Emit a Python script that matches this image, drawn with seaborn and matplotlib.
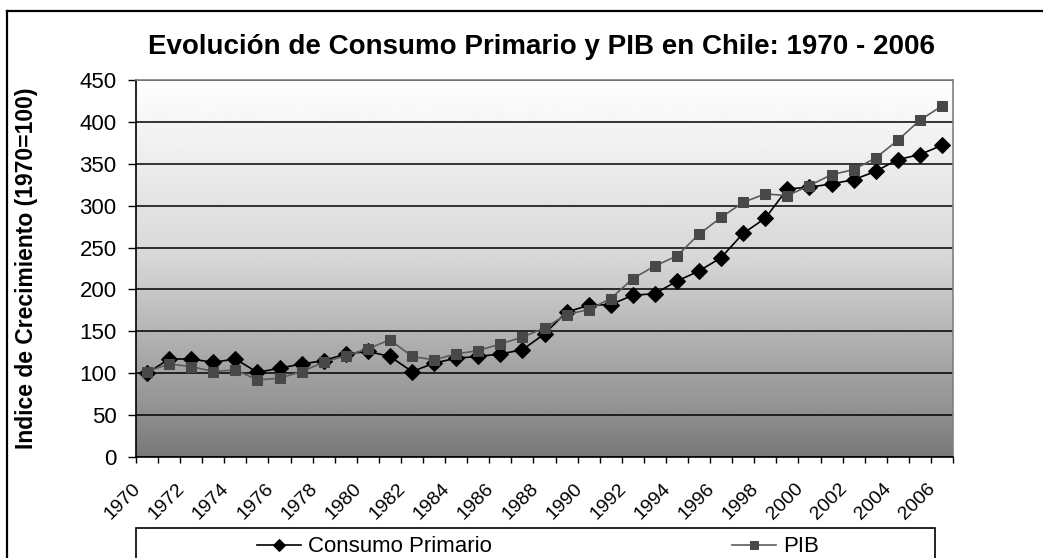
import numpy as np
import matplotlib.pyplot as plt
import pandas as pd
import seaborn as sns
from matplotlib.patches import Rectangle
from matplotlib.lines import Line2D
from matplotlib.transforms import ScaledTranslation

plt.rcParams['font.family'] = ['Liberation Sans', 'DejaVu Sans']

years = list(range(1970, 2007))
consumo = [100, 117, 117, 113, 117, 101, 106, 111, 115, 123, 126, 120, 102,
           112, 118, 120, 123, 128, 147, 173, 181, 182, 193, 195, 210,
           222, 238, 267, 285, 320, 322, 326, 331, 341, 355, 361, 372]
pib = [102, 111, 108, 102, 104, 92, 94, 102, 113, 121, 129, 140, 120,
       116, 123, 127, 135, 143, 154, 170, 176, 189, 213, 228, 240,
       266, 286, 304, 314, 312, 324, 337, 343, 357, 378, 402, 419]
yticks = list(range(0, 451, 50))

df = pd.DataFrame({'idx': range(len(years)), 'year': years,
                   'Consumo Primario': consumo, 'PIB': pib})

W, H = 1043, 558
fig = plt.figure(figsize=(W / 100, H / 100), dpi=100)
ax = fig.add_axes([136 / W, 101 / H, 817 / W, 377 / H])

# gradient background (white top -> grey bottom)
t = np.linspace(0, 1, 256)
shade = np.interp(t, [0, 0.48, 0.78, 0.85, 1.0], [1.0, 0.84, 0.63, 0.59, 0.47])
ax.imshow(shade[:, None], extent=[-0.5, len(years) - 0.5, 0, 450], aspect='auto',
          cmap='gray', vmin=0, vmax=1, zorder=0, interpolation='bilinear')

sns.lineplot(data=df, x='idx', y='Consumo Primario', ax=ax, color='black', lw=1.2,
             marker='D', markersize=8, markeredgecolor='black', label='Consumo Primario', zorder=3)
sns.lineplot(data=df, x='idx', y='PIB', ax=ax, color='#5c5c5c', lw=1.2,
             marker='s', markersize=7, markerfacecolor='#484848', markeredgecolor='#484848',
             label='PIB', zorder=4)

ax.set_xlim(-0.5, len(years) - 0.5)
ax.set_ylim(0, 450)
ax.set_yticks(yticks)
ax.grid(axis='y', color='black', lw=1.1)
ax.set_axisbelow(True)
ax.set_xticks(df['idx'][::2])
ax.set_xticklabels(df['year'][::2])
ax.set_xticks(np.arange(-0.5, len(years), 1), minor=True)
ax.tick_params(axis='x', which='major', length=0, pad=21, labelsize=14)
ax.tick_params(axis='x', which='minor', length=4, width=1, direction='out')
ax.tick_params(axis='y', length=6, width=1, pad=8, labelsize=16)
off = ScaledTranslation(-9 / 100, 0, fig.dpi_scale_trans)
for lab in ax.get_xticklabels():
    lab.set_rotation(45)
    lab.set_ha('right')
    lab.set_va('center')
    lab.set_rotation_mode('anchor')
    lab.set_transform(lab.get_transform() + off)

for s in ['left', 'bottom']:
    ax.spines[s].set_color('black')
    ax.spines[s].set_linewidth(1.2)
for s in ['top', 'right']:
    ax.spines[s].set_color('#808080')
    ax.spines[s].set_linewidth(1.2)

ax.set_xlabel('')
ax.set_ylabel('Indice de Crecimiento (1970=100)', fontsize=16.5, fontweight='bold')
ax.yaxis.set_label_coords(-0.12, 0.5)

fig.text(542 / W, 1 - 47 / H, 'Evolución de Consumo Primario y PIB en Chile: 1970 - 2006',
         ha='center', va='center', fontsize=20, fontweight='bold')

# chart border
fig.add_artist(Line2D([7 / W, 1], [1 - 11 / H, 1 - 11 / H], transform=fig.transFigure,
                      color='black', lw=1.6))
fig.add_artist(Line2D([7 / W, 7 / W], [0, 1 - 11 / H], transform=fig.transFigure,
                      color='black', lw=1.6))

# legend
handles, labels = ax.get_legend_handles_labels()
ax.get_legend().remove()
fig.add_artist(Rectangle((136 / W, -0.05), (935 - 136) / W, 0.05 + 30 / H,
                         transform=fig.transFigure, fill=False, ec='black', lw=1.2))
fig.legend(handles, labels, loc='center', bbox_to_anchor=(538 / W, 1 - 547 / H), ncol=2,
           frameon=False, fontsize=16, handlelength=2.0, handletextpad=0.3,
           columnspacing=10.8, markerscale=0.75)

fig.savefig('out.png', dpi=100)
